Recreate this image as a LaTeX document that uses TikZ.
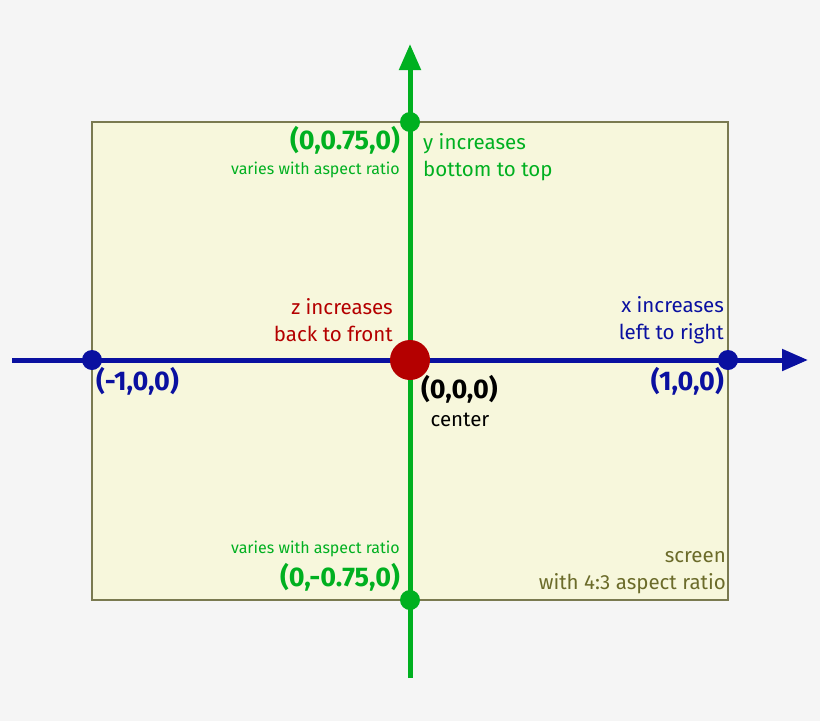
\documentclass[tikz,border=0pt]{standalone}
\usepackage{fontspec}
\setmainfont{Fira Sans}
\usetikzlibrary{arrows.meta}
\definecolor{bg}{HTML}{F5F5F5}
\definecolor{scr}{HTML}{F7F7DC}
\definecolor{scrline}{HTML}{7A7A50}
\definecolor{ygreen}{HTML}{00B020}
\definecolor{xblue}{HTML}{0A10A0}
\definecolor{zred}{HTML}{B40000}
\definecolor{olive}{HTML}{6B6B2A}
\tikzset{
  lbl/.style={inner sep=0pt, font=\fontsize{20.5}{27}\selectfont, align=#1},
  lbl/.default=center,
  coord/.style={inner sep=0pt, font=\fontsize{27}{30}\bfseries\selectfont},
  small/.style={inner sep=0pt, font=\fontsize{16}{18}\selectfont},
  dot/.style={circle, inner sep=0pt, minimum size=20pt},
  axis/.style={line width=5pt, -{Triangle[length=26pt,width=21pt]}},
}
\begin{document}
\begin{tikzpicture}[x=1pt,y=-1pt]
\useasboundingbox (0,0) rectangle (820,721);
\fill[bg] (0,0) rectangle (820,721);
\draw[scrline, fill=scr, line width=1.5pt] (92,122) rectangle (728,600);
\coordinate (yb) at (410,678);
\coordinate (yt) at (410,44);
\coordinate (xl) at (12,360);
\coordinate (xr) at (808,360);
\draw[axis, ygreen] (yb) -- (yt);
\draw[axis, xblue] (xl) -- (xr);
\node[dot, fill=ygreen] (ytop) at (410,122) {};
\node[dot, fill=ygreen] (ybot) at (410,600) {};
\node[dot, fill=xblue] (xneg) at (92,360) {};
\node[dot, fill=xblue] (xpos) at (728,360) {};
\node[dot, fill=zred, minimum size=40pt] (orig) at (410,360) {};
% y labels
\node[coord, ygreen, anchor=east] (ytl) at (400,140) {(0,0.75,0)};
\node[small, ygreen, anchor=east] (ytv) at (400,170) {varies with aspect ratio};
\node[lbl=left, ygreen, anchor=west] (yinc) at (423,157) {y increases\\bottom to top};
\node[small, ygreen, anchor=east] (ybv) at (400,549) {varies with aspect ratio};
\node[coord, ygreen, anchor=east] (ybl) at (400,577) {(0,-0.75,0)};
% z
\node[lbl=right, zred, anchor=east] (zinc) at (393,320) {z increases\\back to front};
% x
\node[lbl=right, xblue, anchor=east] (xinc) at (724,320) {x increases\\left to right};
\node[coord, xblue, anchor=west] (xnl) at (96,381) {(-1,0,0)};
\node[coord, xblue, anchor=east] (xpl) at (724,381) {(1,0,0)};
% origin
\node[coord, black, anchor=west] (ol) at (421,389) {(0,0,0)};
\node[lbl, black] (oc) at (460,420) {center};
% screen
\node[lbl=right, olive, anchor=east] (scrl) at (726,573) {screen\\with 4:3 aspect ratio};
\end{tikzpicture}
\end{document}
